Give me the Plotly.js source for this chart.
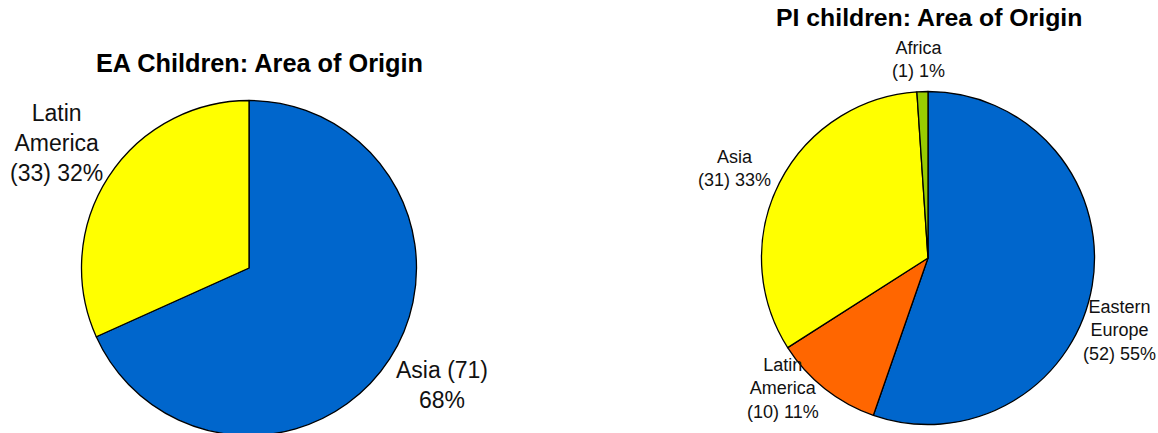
<!DOCTYPE html>
<html>
<head>
<meta charset="utf-8">
<script src="https://cdn.plot.ly/plotly-3.0.1.min.js"></script>
<style>
html,body{margin:0;padding:0;background:#fff;overflow:hidden;}
#chart{width:1158px;height:440px;}
</style>
</head>
<body>
<div id="chart"></div>
<script>
// ---- Data ----
const eaTitle = 'EA Children: Area of Origin';
const eaLabels = ['Asia', 'Latin America'];
const eaValues = [71, 33];
const eaColors = ['#0066CC', '#FFFF00'];

const piTitle = 'PI children: Area of Origin';
const piLabels = ['Eastern Europe', 'Latin America', 'Asia', 'Africa'];
const piValues = [52, 10, 31, 1];
const piColors = ['#0066CC', '#FF6600', '#FFFF00', '#99CC00'];

// ---- Layout helpers ----
const W = 1158, H = 440;
const px = x => x / W;
const py = y => (H - y) / H;

function pct(values, i) {
  const t = values.reduce((a, b) => a + b, 0);
  return Math.round(values[i] / t * 100) + '%';
}

function pieTrace(labels, values, colors, dom) {
  return {
    type: 'pie',
    labels: labels,
    values: values,
    sort: false,
    direction: 'clockwise',
    rotation: 0,
    textinfo: 'none',
    hoverinfo: 'label+value+percent',
    marker: {colors: colors, line: {color: '#000', width: 1.3}},
    domain: {x: [px(dom[0]), px(dom[1])], y: [py(dom[3]), py(dom[2])]},
    showlegend: false
  };
}

const traces = [
  pieTrace(eaLabels, eaValues, eaColors, [81.5, 416.5, 100.5, 435.5]),
  pieTrace(piLabels, piValues, piColors, [761.5, 1094.5, 91.5, 424.5])
];

const fontLbl = 'Liberation Sans, Arial, sans-serif';
function ann(text, x, y, size) {
  return {
    text: text, xref: 'paper', yref: 'paper', x: px(x), y: py(y),
    xanchor: 'center', yanchor: 'middle', showarrow: false, align: 'center',
    font: {family: fontLbl, size: size, color: '#111'}
  };
}

// label texts built from data
const eaText = [
  eaLabels[0] + ' (' + eaValues[0] + ')<br>' + pct(eaValues, 0),
  eaLabels[1].replace(' ', '<br>') + '<br>(' + eaValues[1] + ') ' + pct(eaValues, 1)
];
const piText = piLabels.map((l, i) => l.replace(' ', '<br>') + '<br>(' + piValues[i] + ') ' + pct(piValues, i));

const annotations = [
  {text: '<b>' + eaTitle + '</b>', xref: 'paper', yref: 'paper', x: px(259), y: py(63.5),
   xanchor: 'center', yanchor: 'middle', showarrow: false,
   font: {family: fontLbl, size: 25.3, color: '#000'}},
  {text: '<b>' + piTitle + '</b>', xref: 'paper', yref: 'paper', x: px(929), y: py(17),
   xanchor: 'center', yanchor: 'middle', showarrow: false,
   font: {family: fontLbl, size: 24.8, color: '#000'}},
  ann(eaText[0], 442, 385, 23),
  ann(eaText[1], 56, 143, 23),
  ann(piText[0], 1119, 330.5, 18),
  ann(piText[1], 783, 388.5, 18),
  ann(piText[2], 734, 169, 18),
  ann(piText[3], 918, 60, 18)
];

const layout = {
  width: W, height: H,
  margin: {l: 0, r: 0, t: 0, b: 0},
  paper_bgcolor: '#fff',
  plot_bgcolor: '#fff',
  annotations: annotations
};

Plotly.newPlot('chart', traces, layout, {displayModeBar: false, staticPlot: true});
</script>
</body>
</html>
